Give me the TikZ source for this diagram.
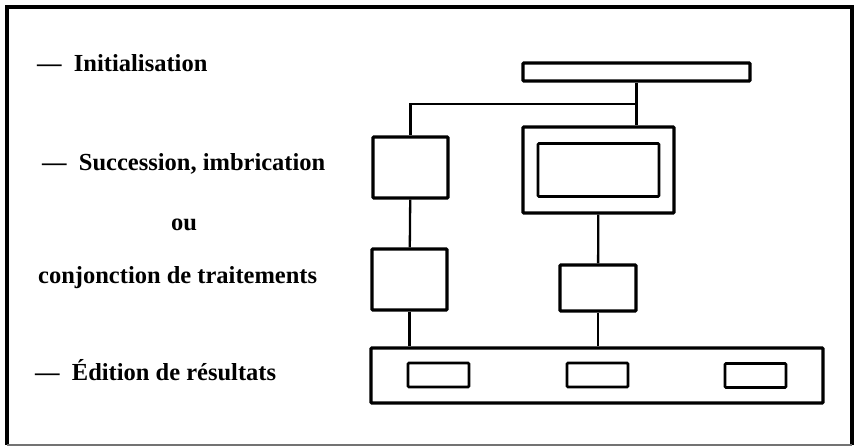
\documentclass[tikz,border=0pt]{standalone}
\usepackage{fontspec}
\setmainfont{Liberation Serif}
\usepackage{tikz}
\usetikzlibrary{positioning,calc}
\tikzset{
  box/.style={draw,line width=3.2pt,rounded corners=1pt,inner sep=0pt},
  slot/.style={draw,line width=2.7pt,rounded corners=1pt,inner sep=0pt},
  link/.style={line width=2.3pt},
  frame/.style={line width=3.5pt},
  entry/.style={font=\fontsize{24.5}{28}\selectfont\bfseries,inner sep=0pt,anchor=base west}
}
\begin{document}
\begin{tikzpicture}[x=1pt,y=-1pt]
  \useasboundingbox (0,0) rectangle (856,447);
  \draw[frame] (7,445) -- (7,7) -- (852,7) -- (852,445);
  \draw[black!55,line width=1.5pt] (7,445) -- (852,445);
  % left column
  \node[entry] (tinit) at (37,71) {\textemdash\enspace Initialisation};
  \node[entry] (tsucc) at (42,170) {\textemdash\enspace Succession, imbrication};
  \node[entry,anchor=base] (tou) at (184,230) {ou};
  \node[entry] (tconj) at (38,283) {conjonction de traitements};
  \node[entry] (tedit) at (35,380) {\textemdash\enspace Édition de résultats};
  % boxes
  \node[box,minimum width=227,minimum height=18] (init) at (636.5,72) {};
  \node[box,minimum width=75,minimum height=61] (s1) at (410.5,167.5) {};
  \node[box,minimum width=151,minimum height=86] (dbl) at (598.5,170) {};
  \node[slot,minimum width=121,minimum height=53] (dblin) at (dbl.center) {};
  \node[box,minimum width=75,minimum height=61] (s2) at (409.5,279.5) {};
  \node[box,minimum width=76,minimum height=46] (t2) at (598,288) {};
  \node[box,minimum width=452,minimum height=55] (bar) at (597,375.5) {};
  \node[slot,minimum width=61,minimum height=24] (r1) at (438.5,375) {};
  \node[slot,minimum width=61,minimum height=24] (r2) at (597.5,375) {};
  \node[slot,minimum width=61,minimum height=24] (r3) at (755.5,375.5) {};
  % connectors
  \coordinate (fork) at (init.south |- 0,104);
  \draw[link] (init.south) -- (fork) -- (fork |- dbl.north);
  \draw[link] (fork) -| (s1.north);
  \draw[link] (s1) -- (s2);
  \draw[link] (s2.south) -- (s2.south |- bar.north);
  \draw[link] (dbl) -- (t2);
  \draw[link] (t2.south) -- (t2.south |- bar.north);
\end{tikzpicture}
\end{document}
